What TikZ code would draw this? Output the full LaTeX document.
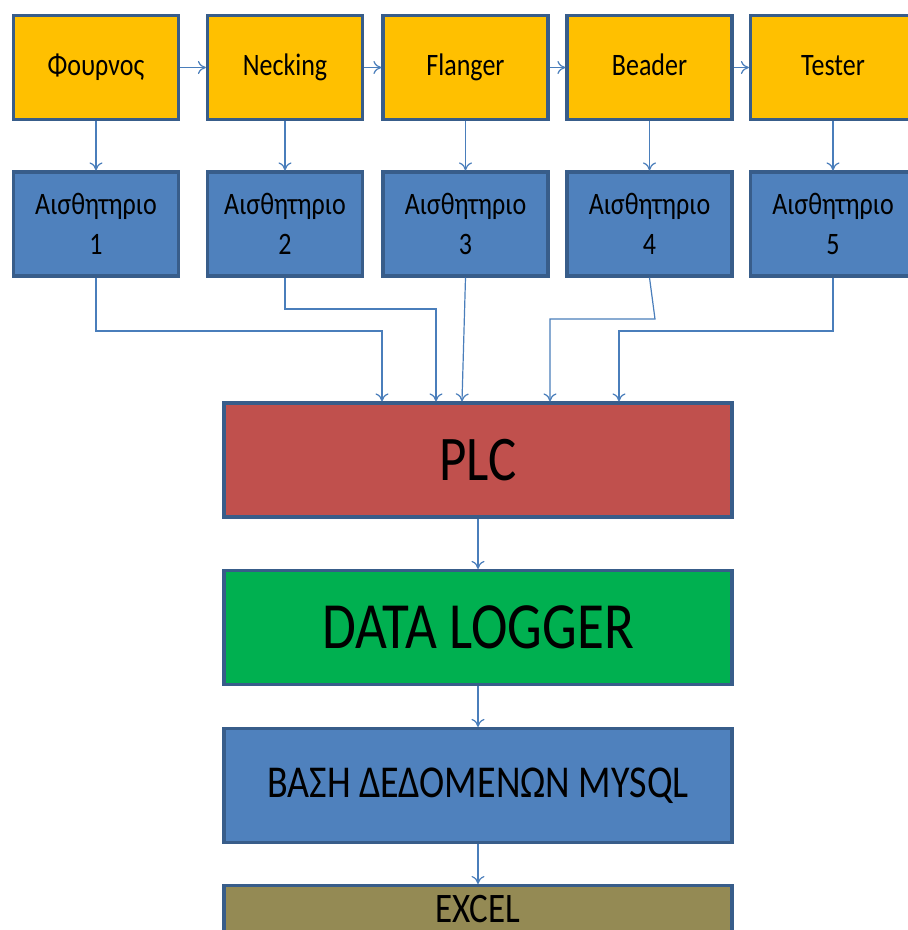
\documentclass[tikz,border=0pt]{standalone}
\usepackage{fontspec}
\setmainfont{Carlito}
\usetikzlibrary{calc,arrows.meta}

\definecolor{boxline}{HTML}{385D8A}
\definecolor{linkblue}{HTML}{4A7EBB}
\definecolor{machineyellow}{HTML}{FFC000}
\definecolor{sensorblue}{HTML}{4F81BD}
\definecolor{plcred}{HTML}{C0504D}
\definecolor{loggergreen}{HTML}{00B050}
\definecolor{exolive}{HTML}{948A54}

\newcommand{\tall}[1]{\scalebox{1}[1.2]{#1}}

\tikzset{
    unit/.style={draw=boxline, line width=3.2pt, minimum width=165, minimum height=104, inner sep=0pt},
    machine/.style={unit, fill=machineyellow, text height=20pt, text depth=5pt, font=\fontsize{26}{30}\selectfont},
    sensor/.style={unit, fill=sensorblue, align=center, font=\fontsize{26}{40}\selectfont},
    stage/.style={draw=boxline, line width=3.2pt, minimum width=508, minimum height=114, inner sep=0pt},
    link/.style={->, draw=linkblue, line width=1.2pt},
    >={To[length=8pt,width=13pt]}
}

\begin{document}
\begin{tikzpicture}[x=1pt, y=-1pt]
        \clip (0,0) rectangle (908,930);
        \fill [white] (0,0) rectangle (908,930);
        % machines
        \node [machine] (t1) at (96,67.5) {\tall{Φουρνος}};
        \node [machine, minimum width=155] (t2) at (285,67.5) {\tall{Necking}};
        \node [machine] (t3) at (465.5,67.5) {\tall{Flanger}};
        \node [machine] (t4) at (649.5,67.5) {\tall{Beader}};
        \node [machine] (t5) at (833,67.5) {\tall{Tester}};
        % sensors
        \node [sensor] (s1) at (96,224) {\tall{Αισθητηριο}\\\tall{1}};
        \node [sensor, minimum width=155] (s2) at (285,224) {\tall{Αισθητηριο}\\\tall{2}};
        \node [sensor] (s3) at (465.5,224) {\tall{Αισθητηριο}\\\tall{3}};
        \node [sensor] (s4) at (649.5,224) {\tall{Αισθητηριο}\\\tall{4}};
        \node [sensor] (s5) at (833,224) {\tall{Αισθητηριο}\\\tall{5}};
        % stages
        \node [stage, fill=plcred, font=\fontsize{53}{60}\selectfont] (plc) at (478,460) {\tall{PLC}};
        \node [stage, fill=loggergreen, font=\fontsize{55}{60}\selectfont] (log) at (478,627.5) {\tall{DATA LOGGER}};
        \node [stage, fill=sensorblue, font=\fontsize{38}{44}\selectfont] (db) at (478,785.5) {\tall{ΒΑΣΗ ΔΕΔΟΜΕΝΩΝ MYSQL}};
        \node [stage, anchor=north, text height=37pt, text depth=80pt, fill=exolive, font=\fontsize{35}{40}\selectfont] (xl) at (478,884) {\tall{EXCEL}};
        % bends
        \coordinate (k1) at (382,331);
        \coordinate (k2) at (436,309);
        \coordinate (k3) at (462,331);
        \coordinate (k4a) at (655,319);
        \coordinate (k4) at (550,319);
        \coordinate (k5) at (619,331);
        \foreach \a/\b in {t1/t2, t2/t3, t3/t4, t4/t5}
            \draw [link] (\a.east) -- (\b.west);
        \foreach \i in {1,...,5}
            \draw [link] (t\i.south) -- (s\i.north);
        \draw [link] (s1.south) |- (k1) -- (k1 |- plc.north);
        \draw [link] (s2.south) |- (k2) -- (k2 |- plc.north);
        \draw [link] (s3.south) -- (k3 |- plc.north);
        \draw [link] (s4.south) -- (k4a) -- (k4) -- (k4 |- plc.north);
        \draw [link] (s5.south) |- (k5) -- (k5 |- plc.north);
        \draw [link] (plc.south) -- (log.north);
        \draw [link] (log.south) -- (db.north);
        \draw [link] (db.south) -- (xl.north);
    \end{tikzpicture}
\end{document}
